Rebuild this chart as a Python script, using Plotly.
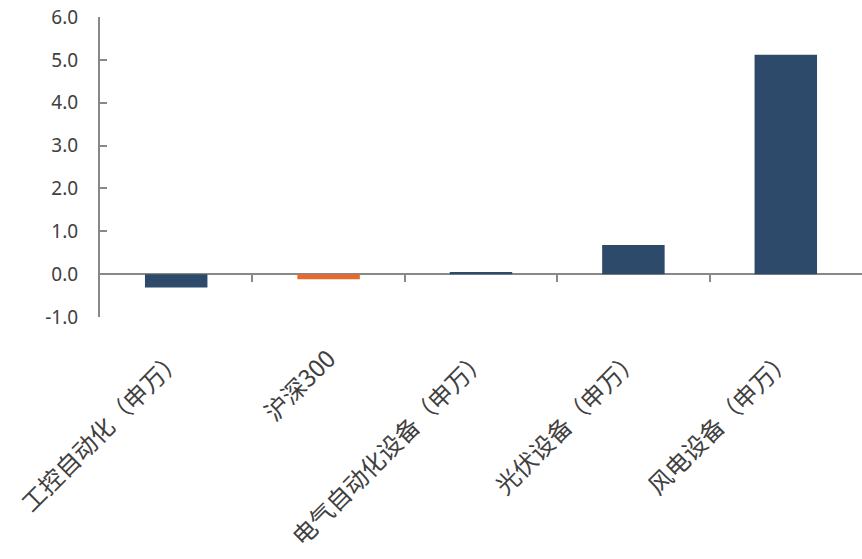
import plotly.graph_objects as go

categories = ["工控自动化（申万）", "沪深300", "电气自动化设备（申万）", "光伏设备（申万）", "风电设备（申万）"]
values = [-0.31, -0.12, 0.05, 0.68, 5.12]
bar_colors = ["#2E4A6B", "#E8692E", "#2E4A6B", "#2E4A6B", "#2E4A6B"]
y_ticks = [-1, 0, 1, 2, 3, 4, 5, 6]
y_tick_text = ["-1.0", "0.0", "1.0", "2.0", "3.0", "4.0", "5.0", "6.0"]

ymin, ymax = -1, 6
axis_gray = "#888888"

fig = go.Figure()
fig.add_trace(go.Bar(x=categories, y=values, marker=dict(color=bar_colors, line=dict(width=0)),
                     width=0.41, hoverinfo="skip"))
# invisible trace for boundary-tick axis on the zero line
fig.add_trace(go.Scatter(x=[0, 4], y=[0, 0], xaxis="x2", yaxis="y", mode="markers",
                         marker=dict(opacity=0), hoverinfo="skip", showlegend=False))

fig.update_layout(
    width=862, height=559,
    margin=dict(l=100, r=0, t=17, b=242),
    plot_bgcolor="white", paper_bgcolor="white",
    showlegend=False,
    font=dict(family="Noto Sans CJK SC", color="#404040"),
    xaxis=dict(type="category", categoryorder="array", categoryarray=categories,
               range=[-0.5, 4.5],
               tickangle=-45, showline=False, ticks="", showgrid=False, zeroline=False,
               tickfont=dict(family="Noto Sans CJK SC", size=24, color="#404040"),
               ticklabelstandoff=22),
    xaxis2=dict(overlaying="x", anchor="free", position=(0 - ymin) / (ymax - ymin),
                type="linear", range=[-0.5, 4.5], tickvals=[0.5, 1.5, 2.5, 3.5],
                ticks="outside", ticklen=7, tickwidth=2, tickcolor=axis_gray,
                showticklabels=False, showline=False, showgrid=False, zeroline=False),
    yaxis=dict(range=[ymin, ymax], tickvals=y_ticks, ticktext=y_tick_text,
               showline=True, linecolor=axis_gray, linewidth=2,
               ticks="inside", ticklen=7, tickwidth=2, tickcolor=axis_gray,
               showgrid=False, zeroline=True, zerolinecolor=axis_gray, zerolinewidth=2,
               tickfont=dict(family="Noto Sans", size=19, color="#404040"),
               ticklabelstandoff=16),
)

fig.write_html("out.html")
